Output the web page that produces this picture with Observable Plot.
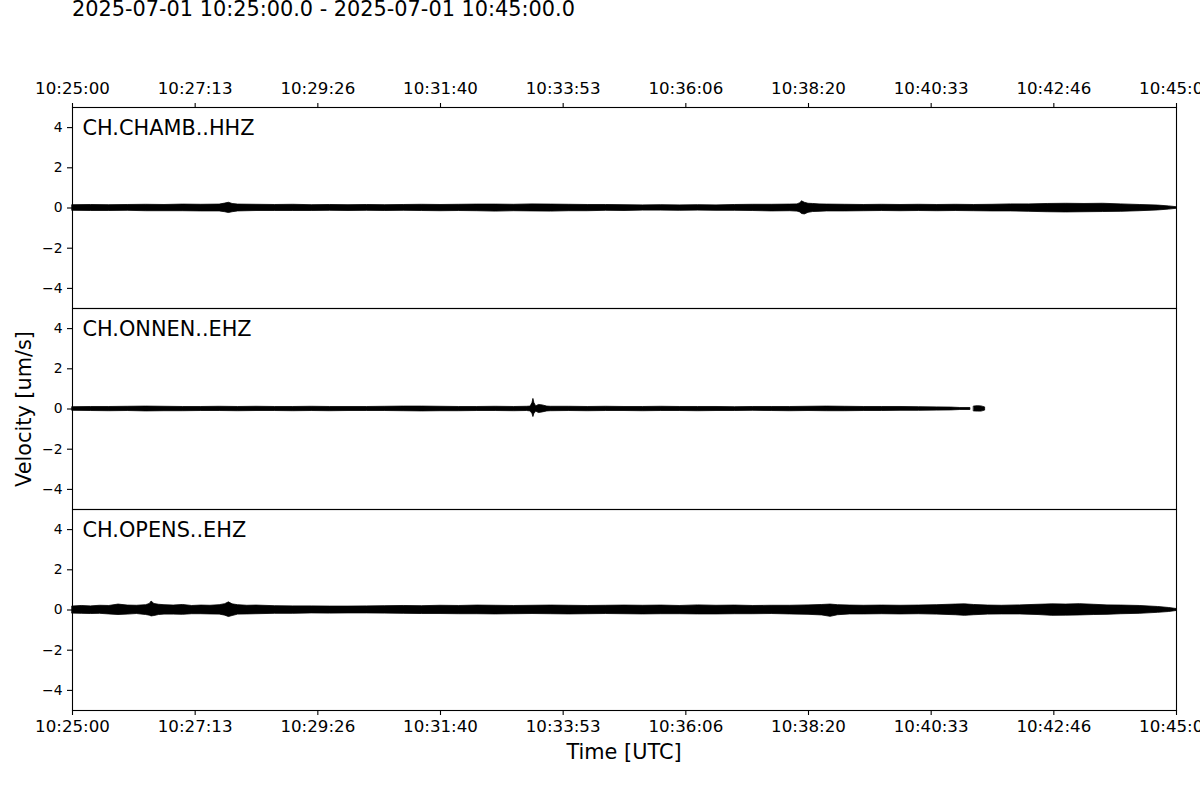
<!DOCTYPE html>
<html><head><meta charset="utf-8">
<script src="https://cdn.jsdelivr.net/npm/d3@7"></script>
<script src="https://cdn.jsdelivr.net/npm/@observablehq/plot@0.6"></script>
<style>
body{margin:0;background:#fff;font-family:"DejaVu Sans",sans-serif;}
#wrap{position:relative;width:1200px;height:800px;overflow:hidden;background:#fff;}
.lbl{position:absolute;font-size:20.83px;line-height:20.83px;white-space:nowrap;color:#000;font-family:"DejaVu Sans",sans-serif;}
#chart{position:absolute;left:0;top:0;}
</style></head><body>
<div id="wrap">
<div id="chart"></div>
<div id="title" class="lbl" style="left:72px;top:-1px;">2025-07-01 10:25:00.0 - 2025-07-01 10:45:00.0</div>
<div id="xlabel" class="lbl" style="left:624px;top:742px;transform:translateX(-50%);">Time [UTC]</div>
<div id="ylabel" class="lbl" style="left:24px;top:408.5px;transform:translate(-50%,-50%) rotate(-90deg);">Velocity [um/s]</div>
</div>
<script>
// ---- data ----
const stations = ["CH.CHAMB..HHZ", "CH.ONNEN..EHZ", "CH.OPENS..EHZ"];
const startTime = "2025-07-01T10:25:00Z";
const endTime = "2025-07-01T10:45:00Z";
const tickSeconds = [0, 133.33, 266.67, 400, 533.33, 666.67, 800, 933.33, 1066.67, 1200];
const tickLabels = ["10:25:00", "10:27:13", "10:29:26", "10:31:40", "10:33:53", "10:36:06", "10:38:20", "10:40:33", "10:42:46", "10:45:00"];
const yTicks = [-4, -2, 0, 2, 4];

// envelope of each trace: seconds after start, upper and lower amplitude (um/s)
const chambTime = [
  0, 20, 40, 60, 80, 100, 120, 140, 160, 166,
  170, 174, 180, 200, 220, 240, 260, 280, 300, 320,
  340, 360, 380, 400, 420, 440, 460, 480, 500, 520,
  540, 560, 580, 600, 620, 640, 660, 680, 700, 720,
  740, 760, 780, 788, 791, 793, 796, 800, 805, 812,
  820, 840, 860, 880, 900, 920, 940, 960, 980, 1000,
  1020, 1040, 1060, 1080, 1100, 1120, 1140, 1160, 1180, 1192,
  1200
];
const chambHigh = [
  0.14, 0.15, 0.14, 0.15, 0.16, 0.15, 0.17, 0.16, 0.17, 0.22,
  0.26, 0.20, 0.17, 0.16, 0.15, 0.16, 0.14, 0.15, 0.14, 0.15,
  0.14, 0.15, 0.16, 0.15, 0.16, 0.17, 0.17, 0.16, 0.18, 0.17,
  0.16, 0.15, 0.15, 0.14, 0.13, 0.14, 0.13, 0.14, 0.13, 0.15,
  0.16, 0.16, 0.17, 0.18, 0.24, 0.33, 0.26, 0.21, 0.20, 0.18,
  0.17, 0.16, 0.15, 0.16, 0.15, 0.16, 0.15, 0.16, 0.15, 0.16,
  0.18, 0.18, 0.20, 0.21, 0.20, 0.21, 0.18, 0.15, 0.12, 0.08,
  0.04
];
const chambLow = [
  -0.14, -0.15, -0.15, -0.14, -0.16, -0.16, -0.16, -0.17, -0.17, -0.21,
  -0.25, -0.21, -0.17, -0.15, -0.15, -0.15, -0.15, -0.14, -0.15, -0.14,
  -0.15, -0.14, -0.15, -0.16, -0.15, -0.16, -0.18, -0.16, -0.17, -0.18,
  -0.16, -0.16, -0.14, -0.15, -0.13, -0.13, -0.14, -0.13, -0.14, -0.14,
  -0.15, -0.17, -0.16, -0.18, -0.22, -0.30, -0.32, -0.24, -0.20, -0.19,
  -0.17, -0.17, -0.16, -0.15, -0.16, -0.15, -0.16, -0.15, -0.16, -0.17,
  -0.17, -0.19, -0.21, -0.22, -0.21, -0.20, -0.19, -0.16, -0.12, -0.08,
  -0.04
];

const onnenTime = [
  0, 20, 40, 60, 80, 100, 120, 140, 160, 180,
  200, 220, 240, 260, 280, 300, 320, 340, 360, 380,
  400, 420, 440, 460, 480, 494, 498, 500, 501, 502,
  504, 507, 511, 516, 520, 540, 560, 580, 600, 620,
  640, 660, 680, 700, 720, 740, 760, 780, 800, 820,
  840, 860, 880, 900, 920, 940, 955, 965, 976, 978,
  980, 984, 988, 992
];
const onnenHigh = [
  0.09, 0.10, 0.10, 0.11, 0.12, 0.11, 0.10, 0.10, 0.11, 0.10,
  0.11, 0.10, 0.10, 0.11, 0.10, 0.10, 0.10, 0.11, 0.12, 0.12,
  0.11, 0.10, 0.10, 0.11, 0.10, 0.11, 0.12, 0.30, 0.50, 0.30,
  0.13, 0.20, 0.18, 0.12, 0.11, 0.11, 0.10, 0.11, 0.10, 0.10,
  0.11, 0.10, 0.10, 0.10, 0.09, 0.10, 0.10, 0.10, 0.11, 0.12,
  0.11, 0.10, 0.10, 0.10, 0.09, 0.08, 0.07, 0.05, 0.05, null,
  0.12, 0.14, 0.13, 0.08
];
const onnenLow = [
  -0.09, -0.10, -0.11, -0.10, -0.12, -0.11, -0.11, -0.10, -0.10, -0.11,
  -0.10, -0.10, -0.11, -0.10, -0.11, -0.10, -0.10, -0.10, -0.11, -0.12,
  -0.11, -0.11, -0.10, -0.10, -0.11, -0.10, -0.12, -0.25, -0.40, -0.25,
  -0.13, -0.20, -0.17, -0.12, -0.11, -0.10, -0.11, -0.10, -0.10, -0.11,
  -0.10, -0.10, -0.11, -0.10, -0.10, -0.09, -0.10, -0.11, -0.10, -0.11,
  -0.11, -0.10, -0.10, -0.09, -0.09, -0.08, -0.07, -0.05, -0.05, null,
  -0.12, -0.13, -0.13, -0.08
];

const opensTime = [
  0, 10, 20, 30, 40, 50, 60, 70, 80, 84,
  86, 89, 94, 100, 110, 120, 130, 140, 150, 160,
  166, 170, 174, 180, 190, 200, 220, 240, 260, 280,
  300, 320, 340, 360, 380, 400, 420, 440, 460, 480,
  500, 520, 540, 560, 580, 600, 620, 640, 660, 680,
  700, 720, 740, 760, 780, 800, 815, 824, 832, 845,
  860, 880, 900, 920, 940, 960, 970, 980, 995, 1010,
  1030, 1050, 1065, 1080, 1095, 1110, 1125, 1140, 1160, 1180,
  1192, 1200
];
const opensHigh = [
  0.17, 0.20, 0.18, 0.21, 0.20, 0.27, 0.22, 0.21, 0.24, 0.30,
  0.42, 0.30, 0.26, 0.24, 0.22, 0.25, 0.20, 0.22, 0.21, 0.24,
  0.29, 0.38, 0.28, 0.24, 0.21, 0.22, 0.19, 0.18, 0.18, 0.17,
  0.17, 0.18, 0.19, 0.20, 0.19, 0.21, 0.20, 0.22, 0.21, 0.20,
  0.21, 0.22, 0.21, 0.20, 0.21, 0.22, 0.21, 0.22, 0.20, 0.23,
  0.21, 0.22, 0.20, 0.21, 0.21, 0.23, 0.25, 0.27, 0.24, 0.22,
  0.21, 0.22, 0.21, 0.22, 0.24, 0.27, 0.28, 0.25, 0.22, 0.21,
  0.23, 0.26, 0.28, 0.27, 0.29, 0.26, 0.23, 0.22, 0.20, 0.15,
  0.10, 0.05
];
const opensLow = [
  -0.18, -0.19, -0.20, -0.19, -0.22, -0.25, -0.23, -0.20, -0.25, -0.28,
  -0.32, -0.30, -0.25, -0.23, -0.23, -0.24, -0.21, -0.21, -0.22, -0.23,
  -0.28, -0.35, -0.30, -0.23, -0.22, -0.21, -0.19, -0.19, -0.17, -0.18,
  -0.17, -0.17, -0.18, -0.19, -0.20, -0.20, -0.21, -0.21, -0.22, -0.21,
  -0.20, -0.21, -0.22, -0.21, -0.20, -0.21, -0.22, -0.21, -0.21, -0.22,
  -0.22, -0.21, -0.21, -0.20, -0.22, -0.24, -0.27, -0.34, -0.26, -0.22,
  -0.22, -0.21, -0.22, -0.21, -0.23, -0.26, -0.29, -0.26, -0.23, -0.22,
  -0.22, -0.25, -0.29, -0.28, -0.27, -0.25, -0.24, -0.21, -0.19, -0.14,
  -0.10, -0.05
];

// ---- build table ----
const t0 = new Date(startTime).getTime();
const toDate = s => new Date(t0 + s * 1000);
const traces = [
  {station: stations[0], time: chambTime, high: chambHigh, low: chambLow},
  {station: stations[1], time: onnenTime, high: onnenHigh, low: onnenLow},
  {station: stations[2], time: opensTime, high: opensHigh, low: opensLow}
];
const rows = traces.flatMap(tr => tr.time.map((s, i) => ({
  station: tr.station, time: toDate(s), high: tr.high[i], low: tr.low[i]
})));
const tickDates = tickSeconds.map(toDate);
const fmtTick = d => {
  let best = 0, bd = Infinity;
  tickDates.forEach((t, i) => { const dd = Math.abs(+t - +d); if (dd < bd) { bd = dd; best = i; } });
  return tickLabels[best];
};

const chart = Plot.plot({
  width: 1200, height: 800,
  marginLeft: 72, marginRight: 24, marginTop: 106, marginBottom: 89,
  style: {fontFamily: "DejaVu Sans", color: "black", background: "white"},
  x: {type: "utc", domain: [new Date(startTime), new Date(endTime)]},
  y: {domain: [-5, 5]},
  fy: {domain: stations, padding: 0, axis: null},
  marks: [
    Plot.areaY(rows, {x: "time", y1: "low", y2: "high", fy: "station", fill: "black", stroke: "black", strokeWidth: 0.8, curve: "linear"}),
    Plot.frame({stroke: "black", strokeWidth: 1.1}),
    Plot.axisY({ticks: yTicks, tickSize: 5, tickPadding: 5, fontSize: 13.9, strokeWidth: 1.1, label: null}),
    Plot.axisX({anchor: "top", ticks: tickDates, tickFormat: fmtTick, tickSize: 5, tickPadding: 9, fontSize: 16.67, strokeWidth: 1.1, label: null}),
    Plot.axisX({anchor: "bottom", ticks: tickDates, tickFormat: fmtTick, tickSize: 5, tickPadding: 5, fontSize: 16.67, strokeWidth: 1.1, label: null}),
    Plot.text(stations, {fy: d => d, text: d => d, frameAnchor: "top-left", dx: 10, dy: 12.5, fontSize: 20.83, fill: "black"})
  ]
});
document.getElementById("chart").appendChild(chart);
</script>
</body></html>
